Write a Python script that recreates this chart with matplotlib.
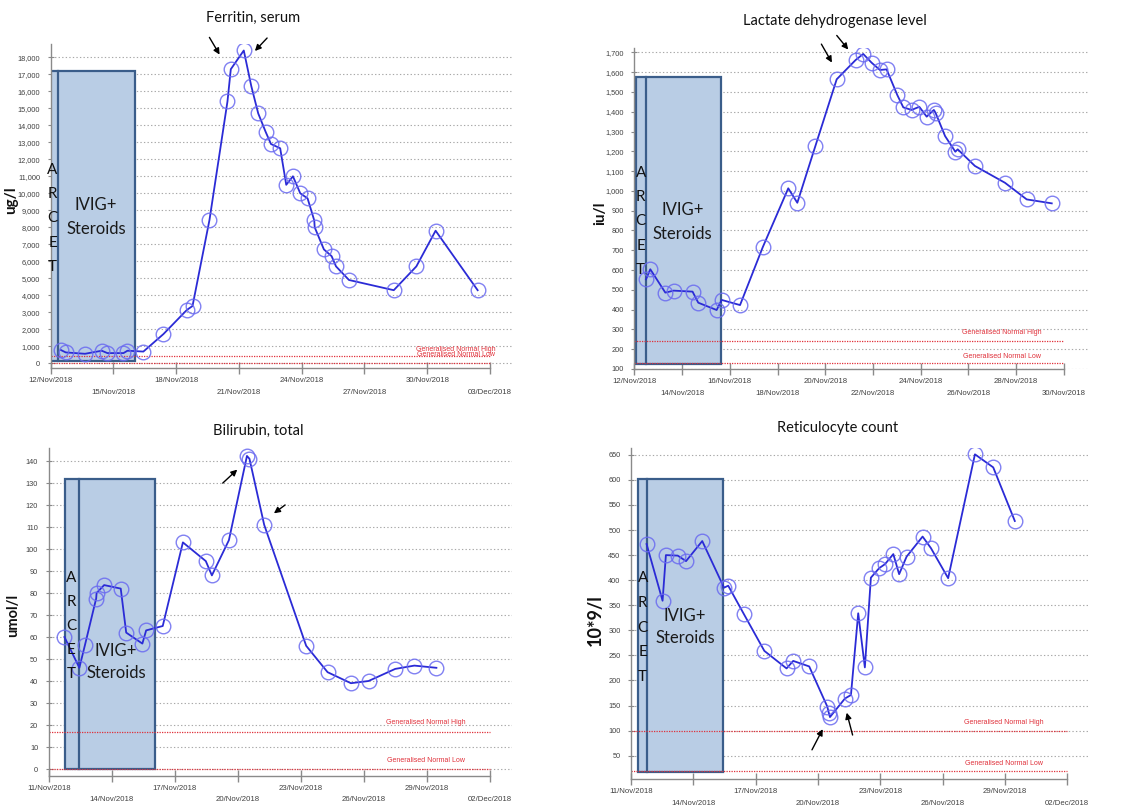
import matplotlib
matplotlib.use('Agg')
import matplotlib.pyplot as plt
from matplotlib.patches import Rectangle, FancyArrowPatch

W, H = 1138, 810

# ---------------- data ----------------
# Ferritin, serum (x = days after 12/Nov/2018)
ferritin_days = [0.49, 0.72, 1.64, 2.44, 2.71, 3.48, 3.67, 4.43, 5.39, 6.51, 6.78, 7.59,
                 8.45, 8.61, 9.23, 9.59, 9.92, 10.28, 10.53, 10.97, 11.26, 11.58, 11.93,
                 12.28, 12.60, 12.62, 13.06, 13.43, 13.64, 14.26, 16.40, 17.48, 18.40, 20.41]
ferritin_vals = [780, 640, 560, 740, 600, 600, 740, 690, 1720, 3140, 3370, 8430,
                 15400, 17300, 18400, 16300, 14700, 13600, 12900, 12650, 10500, 11000, 10000,
                 9700, 8400, 8000, 6700, 6300, 5700, 4900, 4300, 5700, 7800, 4300]
ferritin_ticklabels = ['12/Nov/2018', '15/Nov/2018', '18/Nov/2018', '21/Nov/2018',
                       '24/Nov/2018', '27/Nov/2018', '30/Nov/2018', '03/Dec/2018']
ferritin_normal = [400, 30]

# Lactate dehydrogenase (x = days after 12/Nov/2018)
ldh_days = [0.49, 0.67, 1.30, 1.65, 2.44, 2.68, 3.45, 3.66, 4.43, 5.38, 6.45, 6.83, 7.59,
            8.48, 9.27, 9.59, 9.94, 10.29, 10.57, 11.02, 11.27, 11.62, 11.94, 12.25, 12.55,
            12.62, 13.02, 13.45, 13.55, 14.27, 15.53, 16.44, 17.49]
ldh_vals = [553, 604, 486, 496, 491, 435, 398, 449, 423, 715, 1013, 940, 1228,
            1564, 1661, 1692, 1648, 1611, 1614, 1484, 1422, 1409, 1425, 1375, 1409,
            1395, 1277, 1198, 1210, 1126, 1041, 957, 937]
ldh_ticklabels = ['12/Nov/2018', '14/Nov/2018', '16/Nov/2018', '18/Nov/2018', '20/Nov/2018',
                  '22/Nov/2018', '24/Nov/2018', '26/Nov/2018', '28/Nov/2018', '30/Nov/2018']
ldh_normal = [243, 129]

# Bilirubin, total (x = days after 11/Nov/2018)
bili_days = [0.75, 1.46, 1.73, 2.26, 2.28, 2.64, 3.43, 3.69, 4.46, 4.64, 5.43, 6.39, 7.48,
             7.77, 8.58, 9.44, 9.56, 10.26, 12.26, 13.28, 14.39, 15.23, 16.50, 17.41, 18.46]
bili_vals = [60, 46, 56.5, 77.5, 80, 83.6, 82, 62, 57, 63, 65, 103, 94.5,
             88, 104, 142.3, 141, 111, 56, 44, 39, 40, 45.5, 47, 46]
bili_ticklabels = ['11/Nov/2018', '14/Nov/2018', '17/Nov/2018', '20/Nov/2018',
                   '23/Nov/2018', '26/Nov/2018', '29/Nov/2018', '02/Dec/2018']
bili_normal = [17, 0]

# Reticulocyte count (x = days after 11/Nov/2018)
retic_days = [0.75, 1.52, 1.68, 2.25, 2.65, 3.43, 4.48, 4.68, 5.44, 6.42, 7.49, 7.81, 8.58,
              9.45, 9.52, 9.58, 10.30, 10.59, 10.94, 11.26, 11.55, 11.95, 12.23, 12.63, 12.91,
              13.27, 14.04, 14.44, 15.27, 16.56, 17.44, 18.48]
retic_vals = [472, 359, 450, 449, 438, 478, 385, 389, 332, 259, 224, 239, 228,
              148, 136, 127, 164, 171, 334, 226, 405, 424, 432, 452, 412,
              447, 487, 464, 404, 651, 625, 518]
retic_ticklabels = bili_ticklabels
retic_normal = [100, 20]

# ---------------- styles ----------------
LINE_C = '#2b2bd6'
CIRC_C = '#6a6af0'
BOX_FC = '#b9cde5'
BOX_EC = '#3a5d8a'
RED = '#e0303a'
GRID_C = '#a8a8a8'
AX_C = '#8a8a8a'
TICK_FONT = 'Liberation Sans'
TEXT_FONT = 'Lato'

fig = plt.figure(figsize=(W / 100, H / 100), dpi=100)
fig.patch.set_facecolor('white')


def px_axes(left, right, top, bottom):
    return fig.add_axes([left / W, 1 - bottom / H, (right - left) / W, (bottom - top) / H])


def ptext(x, y, s, **kw):
    fig.text(x / W, 1 - y / H, s, **kw)


def parrow(x0, y0, x1, y1):
    fig.add_artist(FancyArrowPatch((x0 / W, 1 - y0 / H), (x1 / W, 1 - y1 / H),
                                   transform=fig.transFigure, arrowstyle='-|>',
                                   mutation_scale=9, lw=1.0, color='black'))


def panel(ax, days, vals, xlim, ylim, xstep, xlabels, yticks, box, normal, normal_end):
    ax.set_xlim(*xlim)
    ax.set_ylim(*ylim)
    for s in ['top', 'right']:
        ax.spines[s].set_visible(False)
    for s in ['left', 'bottom']:
        ax.spines[s].set_color(AX_C)
        ax.spines[s].set_linewidth(1.0)
    nt = len(xlabels)
    xt = [i * xstep for i in range(nt)]
    ax.spines['bottom'].set_bounds(0, xt[-1])
    ax.set_xticks(xt)
    ax.set_xticklabels([lab if i % 2 == 0 else '\n' + lab for i, lab in enumerate(xlabels)],
                       fontsize=5.6, family=TICK_FONT, color='#404040', linespacing=1.9)
    ax.set_yticks(yticks)
    ax.set_yticklabels(['{:,}'.format(v) for v in yticks], fontsize=5.3,
                       family=TICK_FONT, color='#404040')
    ax.tick_params(axis='x', direction='inout', length=9, width=1.0, color=AX_C, pad=2)
    ax.tick_params(axis='y', direction='inout', length=5, width=0.8, color=AX_C, pad=5)
    ax.set_axisbelow(True)
    ax.yaxis.grid(True, linestyle=(0, (1.2, 2.0)), color=GRID_C, lw=0.8)
    # treatment box
    x0, xs, x1, y0, y1 = box
    ax.add_patch(Rectangle((x0, y0), x1 - x0, y1 - y0, facecolor=BOX_FC,
                           edgecolor=BOX_EC, lw=1.6, zorder=2))
    ax.plot([xs, xs], [y0, y1], color=BOX_EC, lw=1.6, zorder=2.1)
    # normal range lines
    for v in normal:
        ax.plot([0, normal_end], [v, v], color=RED, lw=0.9,
                linestyle=(0, (1, 1)), zorder=2.5)
    # series
    ax.plot(days, vals, color=LINE_C, lw=1.3, zorder=4)
    ax.plot(days, vals, linestyle='none', marker='o', ms=10.5, mfc='none',
            mec=CIRC_C, mew=1.0, alpha=0.85, zorder=5)


# ---- Panel 1: Ferritin
ax1 = px_axes(50.7, 513, 43.7, 368.4)
panel(ax1, ferritin_days, ferritin_vals, (0, 22.1), (-300, 18800), 3, ferritin_ticklabels,
      list(range(0, 18001, 1000)), (-0.06, 0.33, 4.03, 150, 17200), ferritin_normal, 21)

# ---- Panel 2: LDH
ax2 = px_axes(634.3, 1087.8, 48.4, 369)
panel(ax2, ldh_days, ldh_vals, (0, 19.0), (100, 1720), 2, ldh_ticklabels,
      list(range(100, 1701, 100)), (0.07, 0.49, 3.62, 125, 1574), ldh_normal, 18)

# ---- Panel 3: Bilirubin
ax3 = px_axes(48.7, 512, 447.8, 775.6)
panel(ax3, bili_days, bili_vals, (0, 22.06), (-3, 146), 3, bili_ticklabels,
      list(range(0, 141, 10)), (0.78, 1.43, 5.04, 0, 131.8), bili_normal, 21)

# ---- Panel 4: Reticulocyte
ax4 = px_axes(631, 1090, 448.3, 779)
panel(ax4, retic_days, retic_vals, (0, 22.1), (3.5, 663), 3, retic_ticklabels,
      list(range(50, 651, 50)), (0.35, 0.79, 4.41, 18, 602), retic_normal, 21)

# ---- titles
tkw = dict(ha='center', va='center', fontsize=10.5, family=TEXT_FONT, color='#111111')
ptext(253, 18, 'Ferritin, serum', **tkw)
ptext(835, 20.7, 'Lactate dehydrogenase level', **tkw)
ptext(258, 431, 'Bilirubin, total', **tkw)
ptext(837.7, 427.7, 'Reticulocyte count', **tkw)

# ---- y labels
ykw = dict(ha='center', va='center', rotation=90, family=TEXT_FONT, color='#111111',
           fontweight='bold')
ptext(11, 200, 'ug/l', fontsize=11, **ykw)
ptext(600, 213, 'iu/l', fontsize=11, **ykw)
ptext(13, 615, 'umol/l', fontsize=10.5, **ykw)
ptext(595, 620, '10*9/l', fontsize=13, **ykw)

# ---- box texts
bkw = dict(ha='center', va='center', fontsize=12, family=TEXT_FONT, color='#1a1a1a')
for (xc, yi, ys) in [(96, 205, 229), (682.7, 210, 234.3), (116, 650.7, 673), (685, 616, 638.3)]:
    ptext(xc, yi, 'IVIG+', **bkw)
    ptext(xc, ys, 'Steroids', **bkw)

lkw = dict(ha='center', va='center', fontsize=11, family=TEXT_FONT, color='#111111')
for (xc, ya, yt) in [(52.5, 170, 267), (640.7, 172.7, 270), (71, 578, 674), (642.7, 578, 677)]:
    for i, ch in enumerate('ARCET'):
        ptext(xc, ya + i * (yt - ya) / 4, ch, **lkw)

# ---- normal range labels
nkw = dict(ha='center', va='center', fontsize=5, family=TICK_FONT, color=RED)
for (xc, yh, yl) in [(456, 349, 355), (1001.7, 333, 356), (425.7, 723, 761), (1004, 722.7, 763.3)]:
    ptext(xc, yh, 'Generalised Normal High', **nkw)
    ptext(xc, yl, 'Generalised Normal Low', **nkw)

# ---- arrows
parrow(208, 35, 221, 57)
parrow(269, 36, 253, 53)
parrow(820, 41.7, 833.3, 65)
parrow(835, 33.3, 850, 51.7)
parrow(220.7, 485, 239.3, 467.7)
parrow(287.3, 503.3, 271.7, 515)
parrow(810.7, 752.3, 824, 726.7)
parrow(853.3, 737.7, 846, 710)

fig.savefig('out.png', dpi=100, facecolor='white')
